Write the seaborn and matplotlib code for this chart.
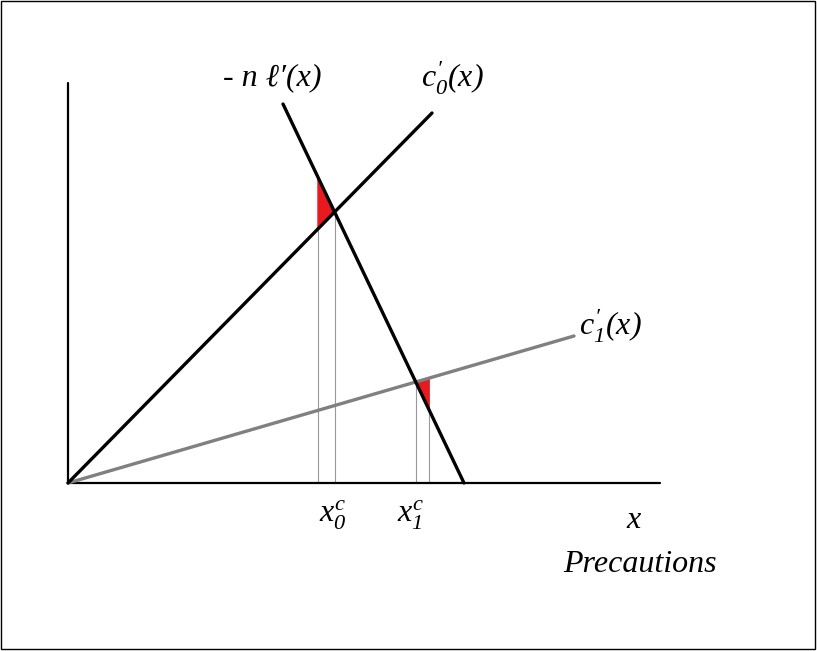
import numpy as np
import matplotlib
matplotlib.use("Agg")
import matplotlib.pyplot as plt
import seaborn as sns
from matplotlib.patches import Rectangle

sns.set_style("white")
plt.rcParams['font.family'] = ['Liberation Serif', 'DejaVu Serif']
plt.rcParams['text.color'] = 'black'
plt.rcParams['mathtext.fontset'] = 'custom'
plt.rcParams['mathtext.it'] = 'Liberation Serif:italic'
plt.rcParams['mathtext.rm'] = 'Liberation Serif:italic'

# line end points (diagram units, origin at the corner of the axes)
c0_x = [0, 364]
c0_y = [0, 370]
nl_x = [215, 396]
nl_y = [379, 0]
c1_x = [0, 506]
c1_y = [0, 147]
axis_len_x = 592
axis_len_y = 400
x0c = 250
x1c = 361


def line_fn(xs, ys):
    m = (ys[1] - ys[0]) / (xs[1] - xs[0])
    return lambda x: ys[0] + m * (x - xs[0]), m


c0, m0 = line_fn(c0_x, c0_y)
nl, mn = line_fn(nl_x, nl_y)
c1, m1 = line_fn(c1_x, c1_y)


def cross(f, mf, g, mg):
    x = (g(0) - f(0)) / (mf - mg)
    return x, f(x)


p0 = cross(c0, m0, nl, mn)
p1 = cross(c1, m1, nl, mn)

fig = plt.figure(figsize=(8.17, 6.51), dpi=100)
ax = fig.add_axes([0, 0, 1, 1])
ax.set_xlim(-68, 817 - 68)
ax.set_ylim(483 - 651, 483)
ax.axis("off")

# axes of the diagram
ax.plot([0, 0], [0, axis_len_y], color="black", lw=1.6)
ax.plot([0, axis_len_x], [0, 0], color="black", lw=1.6)

# red wedges
ax.fill([x0c, x0c, p0[0]], [c0(x0c), nl(x0c), p0[1]], color="#e8191f", zorder=2)
ax.fill([p1[0], x1c, x1c], [p1[1], c1(x1c), nl(x1c)], color="#e8191f", zorder=2)

# thin drop lines
ax.plot([x0c, x0c], [0, nl(x0c)], color="#999999", lw=0.8, zorder=1)
ax.plot([p0[0], p0[0]], [0, p0[1]], color="#999999", lw=0.8, zorder=1)
ax.plot([p1[0], p1[0]], [0, p1[1]], color="#999999", lw=0.8, zorder=1)
ax.plot([x1c, x1c], [0, c1(x1c)], color="#999999", lw=0.8, zorder=1)

sns.lineplot(x=c1_x, y=c1_y, ax=ax, color="#808080", lw=2.4, zorder=3)
sns.lineplot(x=c0_x, y=c0_y, ax=ax, color="black", lw=2.4, zorder=4)
sns.lineplot(x=nl_x, y=nl_y, ax=ax, color="black", lw=2.4, zorder=4)

fs = 23
ax.text(204, 405, "- n ℓ′(x)", fontsize=fs, style="italic", ha="center", va="center")
ax.text(384, 405, "$c_0^{′}(x)$", fontsize=fs, ha="center", va="center")
ax.text(542, 157, "$c_1^{′}(x)$", fontsize=fs, ha="center", va="center")
ax.text(265, -32, r"$x_0^c$", fontsize=fs, ha="center", va="center")
ax.text(343, -32, r"$x_1^c$", fontsize=fs, ha="center", va="center")
ax.text(566, -37, r"$x$", fontsize=fs, ha="center", va="center")
ax.text(572, -82, "Precautions", fontsize=fs, style="italic", ha="center", va="center")

fig.patches.append(Rectangle((0.001, 0.003), 0.996, 0.995, transform=fig.transFigure,
                             fill=False, edgecolor="black", lw=1))

fig.savefig("out.png", dpi=100)
